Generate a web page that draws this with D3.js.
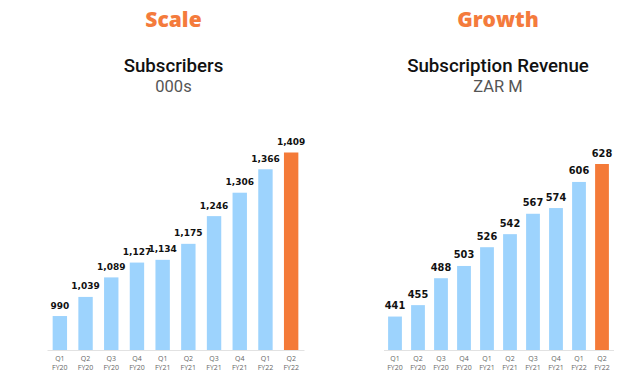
<!DOCTYPE html>
<html><head><meta charset="utf-8">
<script src="https://cdn.jsdelivr.net/npm/d3@7"></script>
<style>html,body{margin:0;padding:0;background:#fff;}svg{display:block;}</style>
</head><body>
<svg id="c" width="624" height="379"></svg>
<script>
const quarters = ["Q1","Q2","Q3","Q4","Q1","Q2","Q3","Q4","Q1","Q2"];
const fiscalYears = ["FY20","FY20","FY20","FY20","FY21","FY21","FY21","FY21","FY22","FY22"];
const subscribers = [990,1039,1089,1127,1134,1175,1246,1306,1366,1409];
const revenue = [441,455,488,503,526,542,567,574,606,628];

const svg = d3.select("#c");
const BLUE = "#9dd3fd", ORANGE = "#f47a38", TITLE_ORANGE = "#f47b3c";

function panel(cfg){
  const cats = quarters.map((q,i)=>i);
  const x = d3.scaleBand().domain(cats).range(cfg.xr).paddingInner(cfg.pad).paddingOuter(cfg.pad/2);
  const y = d3.scaleLinear().domain(cfg.yd).range([350, cfg.ytop]);
  const g = svg.append("g");
  g.append("text").attr("x",cfg.cx).attr("y",26.5).attr("text-anchor","middle")
    .style("font-family","Open Sans").style("font-weight","800").style("font-size","21px")
    .attr("fill",TITLE_ORANGE).text(cfg.title);
  g.append("text").attr("x",cfg.cx).attr("y",71.5).attr("text-anchor","middle")
    .style("font-family","Roboto").style("font-weight","500").style("font-size","18.7px")
    .attr("fill","#111").text(cfg.sub);
  g.append("text").attr("x",cfg.cx).attr("y",91.5).attr("text-anchor","middle")
    .style("font-family","Roboto").style("font-weight","400").style("font-size","16.5px")
    .attr("fill","#555").text(cfg.unit);
  g.selectAll("rect").data(cfg.data).join("rect")
    .attr("x",(d,i)=>x(i)).attr("width",x.bandwidth())
    .attr("y",d=>y(d)).attr("height",d=>350-y(d))
    .attr("fill",(d,i)=>i===cfg.data.length-1?ORANGE:BLUE);
  const axis = d3.axisBottom(x).tickSize(0).tickFormat(()=> "");
  const ax = g.append("g").attr("transform","translate(0,350)").call(axis);
  ax.select(".domain").attr("stroke","#e2e2e2").attr("stroke-width",1);
  ax.selectAll(".tick").each(function(d){
    const t = d3.select(this);
    t.select("text").remove();
    t.append("text").attr("y",11).attr("text-anchor","middle")
      .style("font-family","Open Sans").style("font-size","7px").attr("fill","#666").text(quarters[d]);
    t.append("text").attr("y",20).attr("text-anchor","middle")
      .style("font-family","Open Sans").style("font-size","7px").attr("fill","#666").text(fiscalYears[d]);
  });
  g.selectAll(".vl").data(cfg.data).join("text").attr("class","vl")
    .attr("x",(d,i)=>x(i)+x.bandwidth()/2).attr("y",d=>y(d)-7.5)
    .attr("text-anchor","middle")
    .style("font-family","DejaVu Sans").style("font-weight","700").style("font-size",cfg.fs)
    .attr("fill","#111").text(d=>d3.format(",")(d));
}

panel({data:subscribers, xr:[47,304], pad:0.44, yd:[903,1409], ytop:152.5, cx:173.5,
  title:"Scale", sub:"Subscribers", unit:"000s", fs:"9px"});
panel({data:revenue, xr:[383.5,613.5], pad:0.40, yd:[400,628], ytop:164, cx:498,
  title:"Growth", sub:"Subscription Revenue", unit:"ZAR M", fs:"9.8px"});
</script>
</body></html>
